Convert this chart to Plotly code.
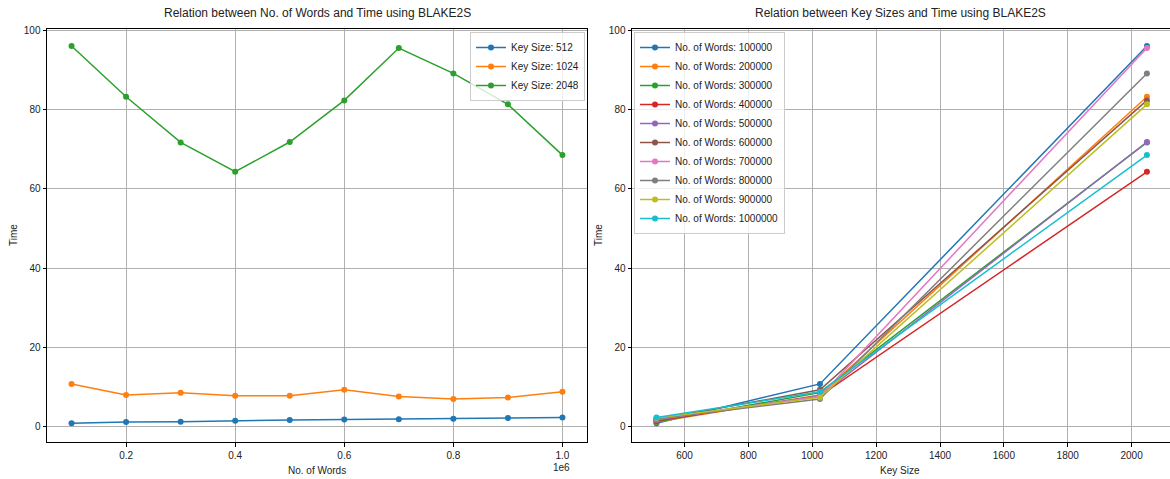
import plotly.graph_objects as go

# ---- data ----
words = [100000, 200000, 300000, 400000, 500000, 600000, 700000, 800000, 900000, 1000000]
key_sizes = [512, 1024, 2048]
time_512 = [0.9, 1.2, 1.25, 1.5, 1.7, 1.8, 1.9, 2.0, 2.2, 2.3]
time_1024 = [10.8, 8.0, 8.6, 7.8, 7.8, 9.3, 7.6, 7.0, 7.4, 8.8]
time_2048 = [96.0, 83.2, 71.7, 64.3, 71.8, 82.3, 95.5, 89.1, 81.3, 68.5]

x_tick_vals = [200000, 400000, 600000, 800000, 1000000]
x_tick_text = ["0.2", "0.4", "0.6", "0.8", "1.0"]
key_ticks = [600, 800, 1000, 1200, 1400, 1600, 1800, 2000]
y_ticks = [0, 20, 40, 60, 80, 100]

colors = ["#1f77b4", "#ff7f0e", "#2ca02c", "#d62728", "#9467bd",
          "#8c564b", "#e377c2", "#7f7f7f", "#bcbd22", "#17becf"]

W, H = 1170, 479
FONT = "Liberation Sans, Arial, sans-serif"

fig = go.Figure()

by_key = [time_512, time_1024, time_2048]
for i, (k, series) in enumerate(zip(key_sizes, by_key)):
    fig.add_trace(go.Scatter(
        x=words, y=series, mode="lines+markers",
        name=f"Key Size: {k}",
        line=dict(color=colors[i], width=1.5),
        marker=dict(color=colors[i], size=6),
        xaxis="x", yaxis="y", legend="legend"))

for j, w in enumerate(words):
    vals = [time_512[j], time_1024[j], time_2048[j]]
    fig.add_trace(go.Scatter(
        x=key_sizes, y=vals, mode="lines+markers",
        name=f"No. of Words: {w}",
        line=dict(color=colors[j], width=1.5),
        marker=dict(color=colors[j], size=6),
        xaxis="x2", yaxis="y2", legend="legend2"))

def px_x(p):
    return p / W

def px_y(p):
    return 1 - p / H

axis_common = dict(
    showgrid=True, gridcolor="#b0b0b0", gridwidth=0.8,
    zeroline=False, showline=True, linecolor="black", linewidth=1,
    mirror=True, ticks="outside", ticklen=3.5, tickcolor="black",
    tickfont=dict(family=FONT, size=10, color="#222"),
    automargin=False,
)

yrange = [-3.85, 100.3]
dom_y = [px_y(442), px_y(29)]

fig.update_layout(
    width=W, height=H,
    margin=dict(l=0, r=0, t=0, b=0),
    paper_bgcolor="white", plot_bgcolor="white",
    font=dict(family=FONT, size=10, color="#222"),
    xaxis=dict(domain=[px_x(47), px_x(587)], range=[55000, 1045000],
               tickvals=x_tick_vals, ticktext=x_tick_text, anchor="y", **axis_common),
    yaxis=dict(domain=dom_y, range=yrange, tickvals=y_ticks, anchor="x", **axis_common),
    xaxis2=dict(domain=[px_x(632), 1.0], range=[435.3, 2120.3],
                tickvals=key_ticks, anchor="y2", **axis_common),
    yaxis2=dict(domain=dom_y, range=yrange, tickvals=y_ticks, anchor="x2", **axis_common),
    legend=dict(x=px_x(585), y=px_y(32), xanchor="right", yanchor="top",
                bgcolor="rgba(255,255,255,0.8)", bordercolor="#cccccc", borderwidth=1,
                font=dict(family=FONT, size=10, color="#222")),
    legend2=dict(x=px_x(634), y=px_y(32), xanchor="left", yanchor="top",
                 bgcolor="rgba(255,255,255,0.8)", bordercolor="#cccccc", borderwidth=1,
                 font=dict(family=FONT, size=10, color="#222")),
    showlegend=True,
)

ann = [
    dict(text="Relation between No. of Words and Time using BLAKE2S",
         x=px_x(317), y=px_y(13), font=dict(size=12)),
    dict(text="Relation between Key Sizes and Time using BLAKE2S",
         x=px_x(900), y=px_y(13), font=dict(size=12)),
    dict(text="No. of Words", x=px_x(317), y=px_y(470), font=dict(size=10)),
    dict(text="Key Size", x=px_x(900), y=px_y(470), font=dict(size=10)),
    dict(text="Time", x=px_x(13), y=px_y(235), textangle=-90, font=dict(size=10)),
    dict(text="Time", x=px_x(598), y=px_y(235), textangle=-90, font=dict(size=10)),
    dict(text="1e6", x=px_x(572), y=px_y(467), xanchor="right", font=dict(size=10)),
]
for a in ann:
    a.setdefault("xanchor", "center")
    a.update(xref="paper", yref="paper", showarrow=False, yanchor="middle")
    a["font"] = dict(family=FONT, color="#222", **a["font"])
    fig.add_annotation(**a)

fig.write_html("out.html")
